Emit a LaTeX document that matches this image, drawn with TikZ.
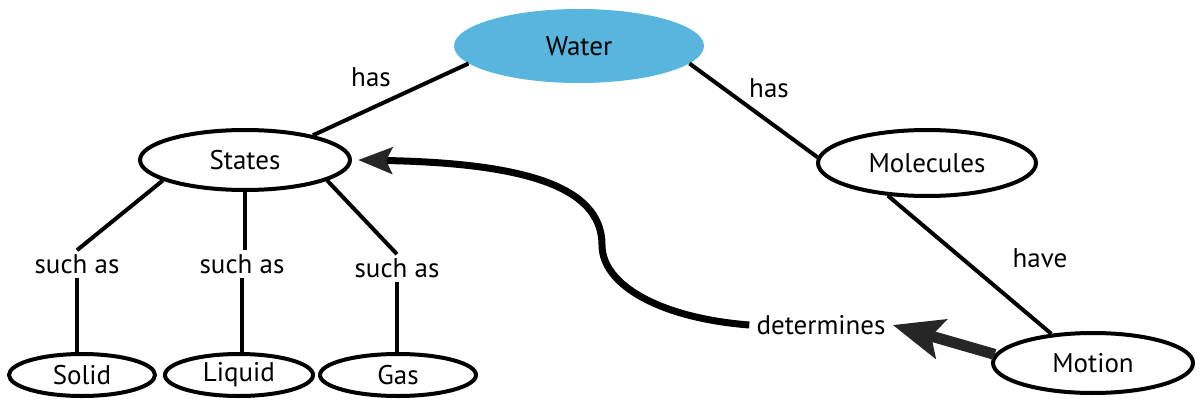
\documentclass[tikz,border=0pt]{standalone}
\usepackage{fontspec}
\setmainfont{PT Sans}
\usetikzlibrary{shapes.geometric,arrows.meta}
\definecolor{waterblue}{RGB}{88,182,222}
\begin{document}
\begin{tikzpicture}[x=1pt,y=-1pt,
  font=\fontsize{27}{32}\selectfont,
  concept/.style={ellipse,draw=black,line width=4pt,inner sep=0pt,fill=white},
  lbl/.style={inner sep=4pt},
  conn/.style={line width=4pt,black}]
\useasboundingbox (0,0) rectangle (1201,401);

\node[ellipse,fill=waterblue,inner sep=0pt,minimum width=250pt,minimum height=74pt] (water) at (579,46) {Water};
\node[concept,minimum width=210pt,minimum height=60pt] (states) at (245,160) {States};
\node[concept,minimum width=218pt,minimum height=66pt] (mol) at (927,163) {Molecules};
\node[concept,minimum width=200pt,minimum height=60pt] (motion) at (1093,363) {Motion};
\node[concept,minimum width=146pt,minimum height=42pt] (solid) at (82,375) {Solid};
\node[concept,minimum width=148pt,minimum height=42pt] (liquid) at (239,375) {Liquid};
\node[concept,minimum width=156pt,minimum height=42pt] (gas) at (398,375) {Gas};

\node[lbl] (has1) at (371,77) {has};
\node[lbl] (has2) at (769,88) {has};
\node[lbl] (sa1) at (77,264) {such as};
\node[lbl] (sa2) at (242,264) {such as};
\node[lbl] (sa3) at (397,268) {such as};
\node[lbl] (have) at (1040,258) {have};
\node[inner ysep=4pt,inner xsep=7pt] (det) at (821,325) {determines};

\draw[conn] (water.189) -- (states.20);
\draw[conn] (water.351) -- (mol.177);
\draw[conn] (mol.220) -- (motion.145);
\draw[conn] (states.194) -- (sa1.north);
\draw[conn] (states.south) -- (states.south |- sa2.north);
\draw[conn] (states.346) -- (sa3.north);
\draw[conn] (sa1.south) -- (sa1.south |- solid.north);
\draw[conn] (sa2.south) -- (sa2.south |- liquid.north);
\draw[conn] (sa3.south) -- (sa3.south |- gas.north);

\draw[line width=7pt,black,-{Stealth[length=34pt,width=26pt,inset=6pt,color=black!85]}]
  (det.west) .. controls (660,318) and (602,285) .. (602,245)
  .. controls (602,185) and (520,163) .. ([xshift=6pt]states.east);
\draw[line width=11pt,black!85,-{Stealth[length=50pt,width=40pt,inset=10pt]}] (motion.175) -- (det.east);
\end{tikzpicture}
\end{document}
